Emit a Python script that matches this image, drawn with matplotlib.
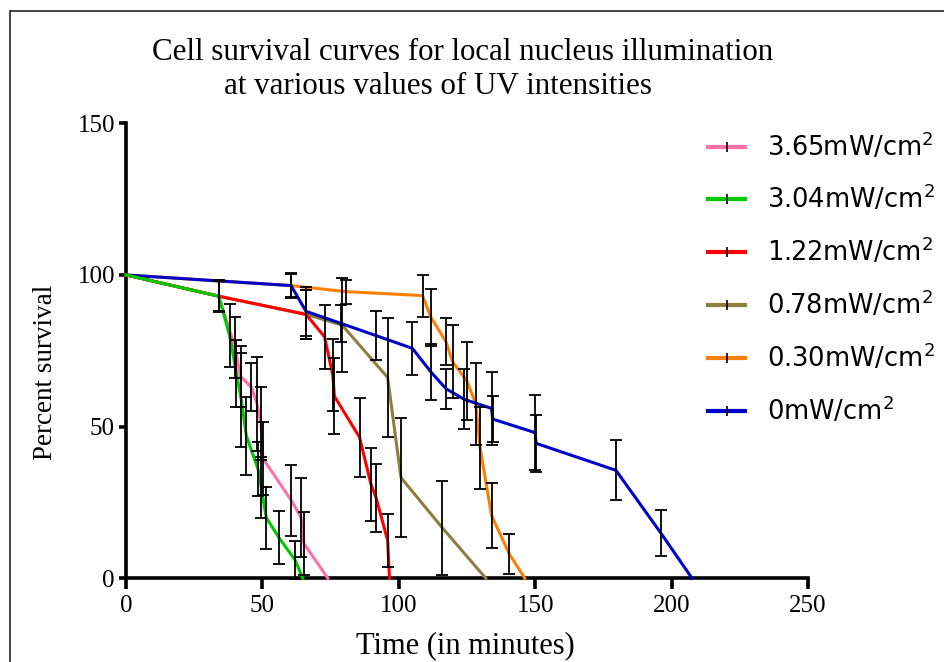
import matplotlib
matplotlib.use("Agg")
import matplotlib.pyplot as plt
from matplotlib.lines import Line2D
from matplotlib.patches import Rectangle
from matplotlib import font_manager

# ---------------- data ----------------
pink_t = [0, 34, 40, 42, 46, 48, 49.5, 50.2, 60.6, 64.2, 65.2, 74]
pink_y = [100, 93, 76, 66.5, 63, 57.5, 51, 39.5, 25.7, 20, 11.5, 0]
pink_e = [0, 5, 10, 10, 8, 15.5, 12, 12, 11.8, 13, 10.5, 0]

green_t = [0, 34, 38, 40.5, 42.3, 44.1, 48.4, 49.6, 51.4, 56, 62, 64.8]
green_y = [100, 93, 80, 67.5, 58.7, 47, 36, 30, 20, 13.5, 6, 0]
green_e = [0, 5.3, 10.5, 11, 15.5, 12.9, 9, 10, 10.2, 8.8, 6.3, 0]

red_t = [0, 34, 66, 72.8, 75.8, 76.4, 85.6, 89.8, 91.7, 95.9, 96.6]
red_y = [100, 93, 87, 79.6, 67, 60, 46.5, 31, 26.5, 12.5, 0]
red_e = [0, 5, 8, 10.5, 12, 12.5, 13, 12, 11.2, 8.8, 0]

olive_t = [0, 34, 66, 79.2, 95.9, 100.8, 116, 131.9]
olive_y = [100, 93, 87, 83.5, 66.2, 33.2, 16.6, 0]
olive_e = [0, 5, 8, 15.4, 19.5, 19.5, 15.5, 0]

orange_t = [0, 60.5, 80.7, 108.7, 111.8, 117.3, 119.7, 125, 128.2, 129.8, 134, 140.5, 146.2]
orange_y = [100, 96.5, 94.5, 93.2, 86, 78, 71.4, 65, 57.5, 43, 20.8, 8, 0]
orange_e = [0, 4, 4, 6.9, 9.4, 7.7, 12.1, 12.9, 13.5, 13.5, 10.7, 6.6, 0]

blue_t = [0, 60.5, 66, 78.9, 91.7, 105, 111.8, 117.3, 124, 134, 134.4, 150, 150.3, 179.6, 196, 207.5]
blue_y = [100, 96.5, 88, 84, 80, 75.8, 68, 62.5, 59, 56, 52.5, 48, 44.5, 35.6, 15, 0]
blue_e = [0, 3.9, 8, 6, 8, 8.8, 9.3, 6.6, 9.9, 12, 7.5, 12.4, 9.5, 9.9, 7.5, 0]

labels = ["3.65mW/cm$^2$", "3.04mW/cm$^2$", "1.22mW/cm$^2$",
          "0.78mW/cm$^2$", "0.30mW/cm$^2$", "0mW/cm$^2$"]
colors = ["#FF6FA8", "#00C800", "#FF0000", "#8C7E3C", "#FF8000", "#0000C8"]
series = [(pink_t, pink_y, pink_e), (green_t, green_y, green_e),
          (red_t, red_y, red_e), (olive_t, olive_y, olive_e),
          (orange_t, orange_y, orange_e), (blue_t, blue_y, blue_e)]
zorders = [3, 4, 3.6, 3.2, 2.8, 3.4]

xticks = [0, 50, 100, 150, 200, 250]
yticks = [0, 50, 100, 150]

# ---------------- fonts ----------------
serif_fp = font_manager.FontProperties(family="Liberation Serif")

plt.rcParams["mathtext.fontset"] = "custom"
plt.rcParams["mathtext.rm"] = "DejaVu Sans"
plt.rcParams["mathtext.default"] = "regular"

W, H = 945, 662
fig = plt.figure(figsize=(W / 100, H / 100), dpi=100)
fig.patch.set_facecolor("white")

ax = fig.add_axes([126 / W, 1 - 578.3 / H, (808 - 126) / W, (578.3 - 123.3) / H])

for (t, y, e), c, z in zip(series, colors, zorders):
    ax.plot(t, y, color=c, lw=2.2, zorder=z, clip_on=False, solid_joinstyle="miter")
    tt = [a for a, b in zip(t, e) if b > 0]
    yy = [a for a, b in zip(y, e) if b > 0]
    ee = [b for b in e if b > 0]
    ax.errorbar(tt, yy, yerr=ee, fmt="none", ecolor="black", elinewidth=1.3,
                capsize=4.2, capthick=1.3, zorder=z + 2, clip_on=False)

ax.set_xlim(0, 250)
ax.set_ylim(0, 150)
ax.set_xticks(xticks)
ax.set_yticks(yticks)
for s in ["top", "right"]:
    ax.spines[s].set_visible(False)
for s in ["left", "bottom"]:
    ax.spines[s].set_linewidth(2.6)
ax.tick_params(axis="x", direction="out", length=8, width=2.6, pad=4)
ax.tick_params(axis="y", direction="out", length=5, width=2.6, pad=3)
for lab in ax.get_xticklabels() + ax.get_yticklabels():
    lab.set_fontproperties(serif_fp)
    lab.set_fontsize(18)

fig.text(46 / W, 1 - 372 / H, "Percent survival", rotation=90, ha="center",
         va="center", fontproperties=serif_fp, fontsize=19.5)
fig.text(465 / W, 1 - 646 / H, "Time (in minutes)", ha="center", va="center",
         fontproperties=serif_fp, fontsize=22)
fig.text(463 / W, 1 - 52 / H, "Cell survival curves for local nucleus illumination",
         ha="center", va="center", fontproperties=serif_fp, fontsize=22.3)
fig.text(438 / W, 1 - 87 / H, "at various values of UV intensities",
         ha="center", va="center", fontproperties=serif_fp, fontsize=22.3)

handles = [Line2D([0], [0], color=c, lw=3, marker="|", markersize=7,
                  markeredgecolor="black", markeredgewidth=1.2) for c in colors]
fig.legend(handles, labels, loc="upper left", bbox_to_anchor=(708 / W, 1 - 131 / H),
           bbox_transform=fig.transFigure, frameon=False, borderpad=0,
           borderaxespad=0, handlelength=1.45, handletextpad=0.85,
           labelspacing=0.87, numpoints=1,
           prop={"family": "DejaVu Sans", "size": 18.5})

fig.patches.append(Rectangle((10 / W, -0.1), 1.2, 1.1 - 11 / H, transform=fig.transFigure,
                             fill=False, edgecolor="#222222", lw=1.2))

fig.savefig("out.png", dpi=100)
